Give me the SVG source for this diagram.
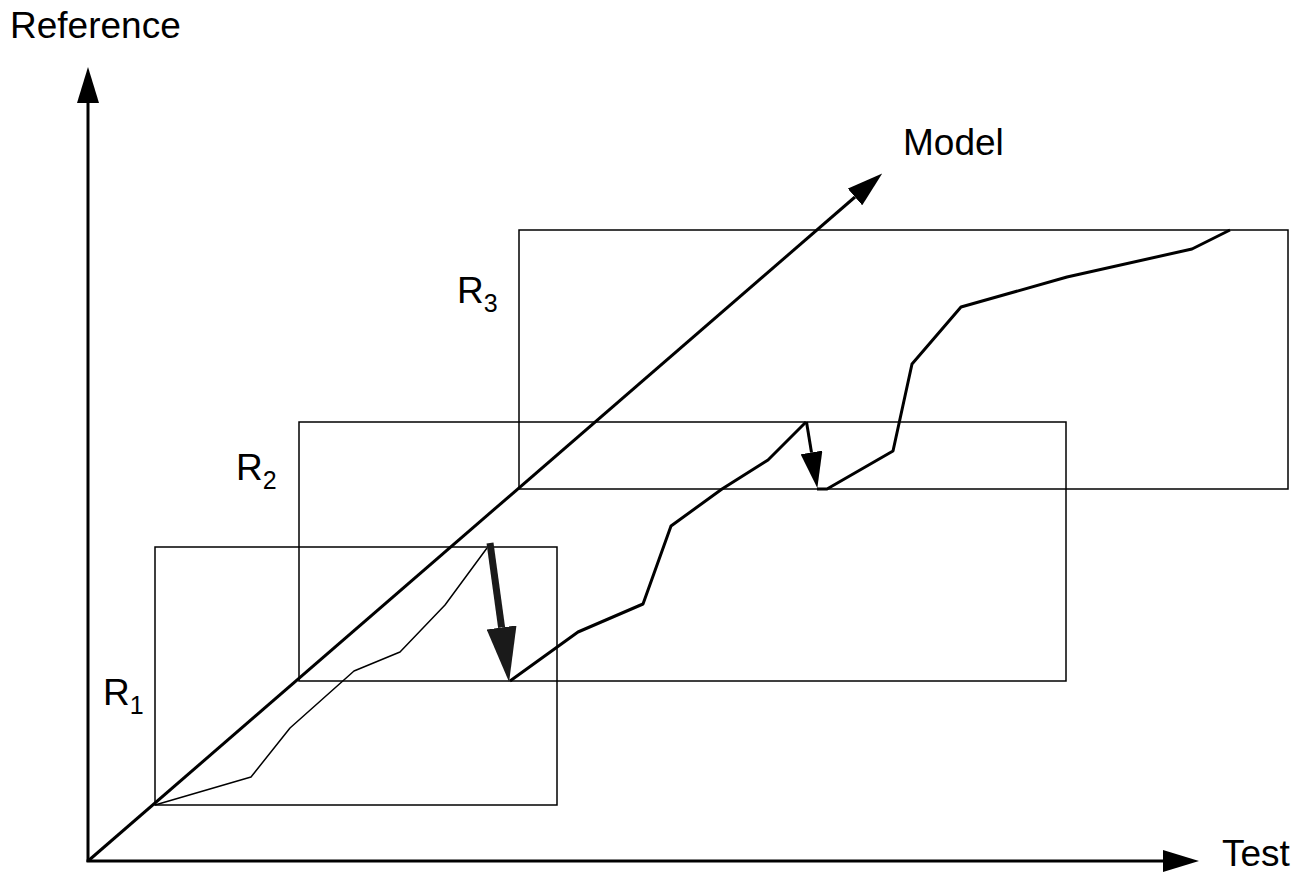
<svg xmlns="http://www.w3.org/2000/svg" width="1300" height="873" viewBox="0 0 1300 873">
  <style>
    .label { font-family: "Liberation Sans", Arial, sans-serif; font-size: 37px; fill: #000; }
    .sub { font-size: 25px; }
    .axis { stroke: #000; stroke-width: 3; fill: none; }
    .region { stroke: #000; stroke-width: 1.5; fill: none; }
    .thin { stroke: #000; stroke-width: 1.5; fill: none; stroke-linejoin: round; }
    .thick { stroke: #000; stroke-width: 3; fill: none; stroke-linejoin: round; }
  </style>
  <defs>
    <marker id="head" markerUnits="userSpaceOnUse" viewBox="0 0 36 22" refX="0" refY="11" markerWidth="36" markerHeight="22" orient="auto">
      <path d="M0,0 L36,11 L0,22 Z" fill="#000"/>
    </marker>
    <marker id="bighead" markerUnits="userSpaceOnUse" viewBox="0 0 55 30" refX="0" refY="15" markerWidth="55" markerHeight="30" orient="auto">
      <path d="M0,0 L55,15 L0,30 Z" fill="#1a1a1a"/>
    </marker>
  </defs>

  <rect width="1300" height="873" fill="#fff"/>

  <!-- axis labels -->
  <g id="label-reference"><text class="label" x="10" y="38">Reference</text></g>
  <g id="label-test"><text class="label" x="1222" y="866">Test</text></g>
  <g id="label-model"><text class="label" x="903" y="155">Model</text></g>

  <!-- regions -->
  <g id="region-r1">
    <rect class="region" x="155" y="547" width="402" height="258"/>
    <text class="label" x="103" y="705">R<tspan class="sub" dy="9">1</tspan></text>
  </g>
  <g id="region-r2">
    <rect class="region" x="299" y="422" width="767" height="259"/>
    <text class="label" x="236" y="480">R<tspan class="sub" dy="9">2</tspan></text>
  </g>
  <g id="region-r3">
    <rect class="region" x="519" y="230" width="769" height="259"/>
    <text class="label" x="457" y="303">R<tspan class="sub" dy="9">3</tspan></text>
  </g>

  <g id="connectors">
    <!-- axes -->
    <line class="axis" x1="88" y1="862" x2="88" y2="103" marker-end="url(#head)"/>
    <line class="axis" x1="86.5" y1="861" x2="1163" y2="861" marker-end="url(#head)"/>
    <!-- model diagonal -->
    <line class="axis" x1="88" y1="861" x2="855" y2="197" marker-end="url(#head)"/>

    <!-- path within R1 -->
    <polyline class="thin" points="155,805 251,777 290,728 354,671 400,652 445,605 487,548"/>
    <!-- jump R1 to R2 -->
    <line x1="490" y1="543" x2="501.6" y2="627.5" stroke="#1a1a1a" stroke-width="7" marker-end="url(#bighead)"/>

    <!-- path within R2 -->
    <polyline class="thick" points="510,681 578,632 643,604 671,526 722,489 768,460 806,422"/>
    <!-- jump R2 to R3 -->
    <line x1="806.5" y1="422" x2="811.5" y2="452.4" stroke="#000" stroke-width="3" marker-end="url(#head)"/>

    <!-- path within R3 -->
    <polyline class="thick" points="817,489 827,489 893,451 912,364 961,307 1067,277 1192,249 1230,230"/>
  </g>
</svg>
